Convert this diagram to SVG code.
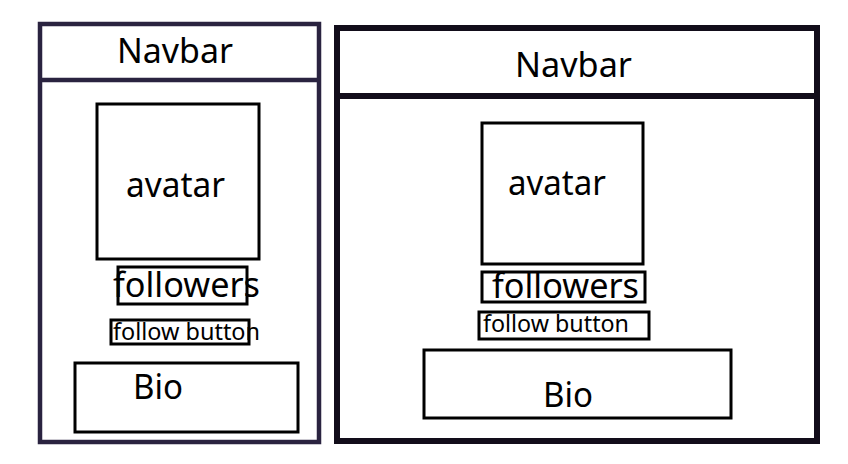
<svg xmlns="http://www.w3.org/2000/svg" width="848" height="464" viewBox="0 0 848 464">
<style>
.bg{fill:#ffffff}
.frameL{fill:none;stroke:#2a2340;stroke-width:4.5}
.frameR{fill:none;stroke:#120d1a;stroke-width:6}
.box{fill:none;stroke:#000;stroke-width:3}
text{font-family:"Noto Sans","Open Sans","Liberation Sans",sans-serif;fill:#000}
.big{font-size:34px}
.small{font-size:23.5px}
</style>
<rect class="bg" x="0" y="0" width="848" height="464"/>
<g id="left-frame">
<rect class="frameL" x="40" y="24" width="279" height="418"/>
<line class="frameL" x1="40" y1="80" x2="319" y2="80"/>
</g>
<g id="left-navbar"><text class="big" x="117" y="63" textLength="116" lengthAdjust="spacingAndGlyphs">Navbar</text></g>
<g id="left-avatar"><rect class="box" x="97" y="104" width="162" height="155"/><text class="big" x="126" y="197" textLength="99" lengthAdjust="spacingAndGlyphs">avatar</text></g>
<g id="left-followers"><rect class="box" x="118" y="267" width="129" height="37"/><text class="big" x="113" y="297" textLength="147" lengthAdjust="spacingAndGlyphs">followers</text></g>
<g id="left-follow-button"><rect class="box" x="111" y="320" width="138" height="24"/><text class="small" x="113" y="340" textLength="147" lengthAdjust="spacingAndGlyphs">follow button</text></g>
<g id="left-bio"><rect class="box" x="75" y="363" width="223" height="69"/><text class="big" x="133" y="399" textLength="50" lengthAdjust="spacingAndGlyphs">Bio</text></g>
<g id="right-frame">
<rect class="frameR" x="337" y="28" width="480" height="413"/>
<line class="frameR" x1="337" y1="96" x2="817" y2="96"/>
</g>
<g id="right-navbar"><text class="big" x="515" y="77" textLength="117" lengthAdjust="spacingAndGlyphs">Navbar</text></g>
<g id="right-avatar"><rect class="box" x="482" y="123" width="161" height="141"/><text class="big" x="508" y="195" textLength="98" lengthAdjust="spacingAndGlyphs">avatar</text></g>
<g id="right-followers"><rect class="box" x="482" y="272" width="163" height="30"/><text class="big" x="492" y="298" textLength="147" lengthAdjust="spacingAndGlyphs">followers</text></g>
<g id="right-follow-button"><rect class="box" x="479" y="312" width="170" height="27"/><text class="small" x="483" y="332" textLength="146" lengthAdjust="spacingAndGlyphs">follow button</text></g>
<g id="right-bio"><rect class="box" x="424" y="350" width="307" height="68"/><text class="big" x="543" y="407" textLength="50" lengthAdjust="spacingAndGlyphs">Bio</text></g>
</svg>
